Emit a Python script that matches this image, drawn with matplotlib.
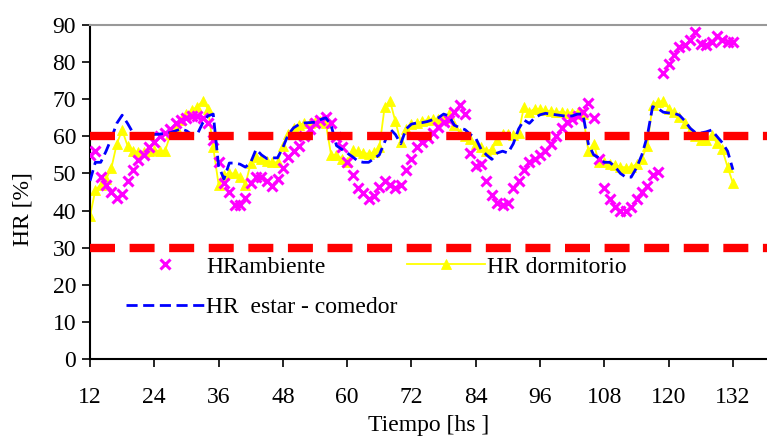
import matplotlib
matplotlib.use("Agg")
import matplotlib.pyplot as plt
import numpy as np

plt.rcParams['font.family'] = ['Liberation Serif', 'DejaVu Serif']

# time in hours
hours = list(range(12, 133))

hr_ambiente = [55, 56, 49, 47, 45, 43.5, 44.5, 48, 51, 53.6,
               55, 57, 58.5, 60, 61, 62, 63.5, 64.3, 65, 65.5,
               65.5, 65, 63.5, 59, 53, 47.5, 45, 41.5, 41.5, 43.5,
               47.5, 49, 49, 48, 46.5, 48.5, 51.5, 54.5, 56, 57.5,
               60, 62, 63.5, 64.4, 65.3, 63.6, 59.8, 57, 53, 49.6,
               46, 44.7, 43, 44, 46.4, 48, 47, 46, 47, 51,
               54, 57, 58.5, 59.5, 61, 62.5, 63.8, 64.5, 66.5, 68.5,
               66, 55.5, 52, 52.5, 48, 44.2, 42, 41.5, 42, 46,
               48, 51, 53, 54, 55, 56, 58, 60, 62.3, 63.8,
               64.8, 65.6, 66.5, 69, 65, 54, 46, 43, 41, 40,
               40, 41, 43.2, 45, 46.5, 49.6, 50.4, 77, 79.5, 82,
               84, 84.5, 86, 88, 85, 84.5, 85.5, 87, 86, 85.5,
               85.5]

hr_dormitorio = [38.5, 45.5, 47, 48.5, 51.5, 58, 61.7, 57.5, 56, 55.8,
                 55.8, 56, 56.3, 56, 56, 60.5, 62.5, 64.5, 66, 67,
                 68, 69.5, 67.5, 57, 47, 49.5, 50, 50, 49, 47,
                 52.8, 54.5, 53.8, 53.3, 53, 53, 57.5, 60.5, 62.2, 63,
                 63.6, 63.7, 63.8, 64.2, 63.5, 55, 55, 54, 53, 56.3,
                 56, 55.5, 55.3, 55.8, 57, 68, 69.5, 64, 58.5, 62,
                 63.3, 63.5, 64, 64.5, 64.8, 64.6, 65, 66, 63, 61,
                 60, 59.2, 58, 57, 56, 56.5, 59, 60.5, 60.5, 60.4,
                 61, 68, 66.5, 67.5, 67.3, 67, 66.8, 66.6, 66.5, 66.3,
                 66.4, 66.6, 66, 56, 58, 53, 53, 52.6, 52.3, 51.8,
                 51.6, 51.7, 52.5, 54, 57.5, 68.5, 69.3, 69.5, 67.5, 66.5,
                 65.2, 63.5, 61.5, 60, 59, 59, 60.4, 58.2, 56.5, 51.7,
                 47.4]

hr_estar = [48, 53, 53, 56, 59.5, 63.5, 65.7, 63.5, 61, 60.4,
            60.2, 60.2, 60.5, 60.6, 60.8, 61, 61.5, 62, 61.5, 60.5,
            60.5, 63.5, 65.5, 66, 52, 48.5, 52.8, 52.8, 52.5, 51.7,
            53, 56.5, 55, 54, 54.2, 54.2, 57, 60.5, 62.3, 63.2,
            63.6, 63.7, 63.8, 64.5, 65, 63, 57.5, 56.5, 55.5, 54.5,
            53.3, 53, 53, 54, 55, 58.5, 62, 60.5, 58, 62,
            63.3, 63.6, 63.7, 64, 64.5, 65, 66, 65.5, 63, 62.3,
            61.8, 60.5, 59.5, 56.5, 55, 53.8, 55.5, 56, 55.5, 58,
            62, 64.4, 63.5, 65, 65.8, 66.2, 66, 65.8, 65.6, 65.4,
            65.5, 66, 66, 58, 55, 54.2, 53, 53, 51.8, 50,
            49, 49, 51.5, 55, 60, 68, 67.5, 66.5, 66.3, 66.2,
            65.7, 64.2, 62.2, 61, 60.9, 61.2, 61.7, 60, 58.3, 56,
            51]

limits = [60, 30]
x_ticks = [12, 24, 36, 48, 60, 72, 84, 96, 108, 120, 132]
y_ticks = [0, 10, 20, 30, 40, 50, 60, 70, 80, 90]

W, H = 767, 438
fig = plt.figure(figsize=(W / 100, H / 100), dpi=100)
ax = fig.add_axes([90 / W, 1 - 359 / H, (W - 90) / W, 334 / H])

l_amb, = ax.plot(hours, hr_ambiente, linestyle='none', marker='x', color='#FF00FF',
                 markersize=6.5, markeredgewidth=2.2, zorder=3, label='HRambiente')
l_dorm, = ax.plot(hours, hr_dormitorio, color='#FFFF00', linewidth=1.3, marker='^',
                  markersize=7, markeredgewidth=0.6, zorder=2, label='HR dormitorio')
l_est, = ax.plot(hours, hr_estar, color='#0000FF', linewidth=2.0, dashes=(4, 2),
                 zorder=4, label='HR  estar - comedor')

for lim in limits:
    ax.axhline(lim, color='#FF0000', linewidth=6, dashes=(3.0, 1.75), zorder=5)

ax.set_xlim(12, 12 + (W - 90) / 5.358)
ax.set_ylim(0, 90)
ax.set_xticks(x_ticks)
ax.set_yticks(y_ticks)
ax.tick_params(axis='both', labelsize=17, direction='out', length=6, width=1.2, colors='black')
ax.tick_params(axis='x', pad=14)
ax.tick_params(axis='y', pad=4)

for s in ['left', 'bottom']:
    ax.spines[s].set_color('black')
    ax.spines[s].set_linewidth(1.5)
ax.spines['right'].set_visible(False)
ax.spines['top'].set_color('#999999')
ax.spines['top'].set_linewidth(1.5)

ax.set_xlabel('Tiempo [hs ]', fontsize=17, labelpad=5)
ax.set_ylabel('HR [%]', fontsize=17)
ax.yaxis.set_label_coords(-0.083, 0.45)

leg = ax.legend(handles=[l_amb, l_est, l_dorm], ncol=2, frameon=False, fontsize=17,
                loc='upper left', bbox_to_anchor=(126 / W, 1 - 256 / H),
                bbox_transform=fig.transFigure, borderpad=0, borderaxespad=0,
                handlelength=3.3, handletextpad=0.1, columnspacing=0.4,
                labelspacing=0.8)

fig.savefig('out.png', dpi=100)
